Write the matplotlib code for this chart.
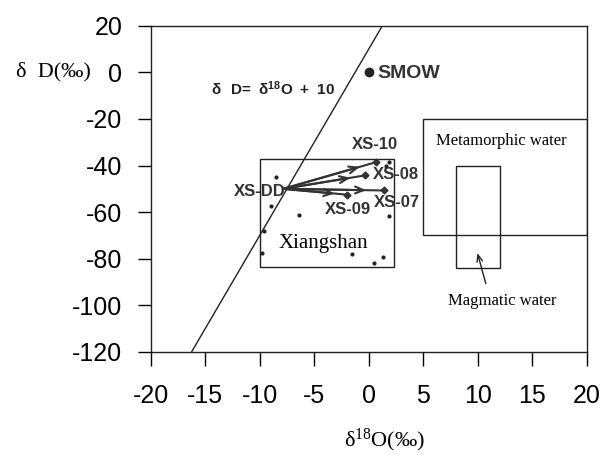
import numpy as np
import matplotlib
matplotlib.use('Agg')
import matplotlib.pyplot as plt
from matplotlib.patches import Rectangle

plt.rcParams['font.family'] = ['Liberation Sans', 'DejaVu Sans']
plt.rcParams['mathtext.fontset'] = 'custom'
plt.rcParams['mathtext.rm'] = 'Liberation Serif'
plt.rcParams['mathtext.bf'] = 'Liberation Sans:bold'
plt.rcParams['axes.unicode_minus'] = False

# meteoric water line dD = slope * d18O + intercept
mwl_slope = 8
mwl_intercept = 10

# SMOW
smow_x, smow_y = 0, 0

# Xiangshan samples: start point and shifted end points
dd_x, dd_y = -7.85, -50.0
end_names = ['XS-10', 'XS-08', 'XS-07', 'XS-09']
end_x = [0.7, -0.3, 1.4, -2.0]
end_y = [-38.5, -44.2, -50.7, -52.5]

# other Xiangshan samples (small dots)
dots_x = [-8.5, -9.0, -6.4, -9.6, -9.8, 1.9, 1.3, 0.5, -1.5, 1.9, 1.6]
dots_y = [-45.1, -57.5, -61.1, -68.2, -77.6, -61.8, -79.4, -81.8, -78.0, -38.5, -40.0]

# field boxes (x0, x1, y0, y1)
xiangshan_box = (-10, 2.3, -83.5, -37)
metamorphic_box = (5, 20, -70, -20)
magmatic_box = (8, 12, -84, -40)

fig = plt.figure(figsize=(6.05, 4.55), dpi=100)
ax = fig.add_axes([0.249, 0.2264, 0.721, 0.7171])
ax.set_xlim(-20, 20)
ax.set_ylim(-120, 20)
ax.set_xticks(np.arange(-20, 21, 5))
ax.set_yticks(np.arange(-120, 21, 20))
ax.tick_params(axis='x', direction='out', length=10, width=1, labelsize=18, pad=13)
ax.tick_params(axis='y', direction='out', length=9.5, width=1, labelsize=18, pad=11)
for sp in ax.spines.values():
    sp.set_linewidth(1)
    sp.set_color('#222222')

# meteoric water line
xs = np.linspace(-20, 20, 50)
ax.plot(xs, mwl_slope * xs + mwl_intercept, color='#222222', lw=1)
ax.text(-8.8, -6.9, r'$\mathbf{\delta\ \ D\!=\ \delta^{18}O\ +\ 10}$', fontsize=11,
        ha='center', va='center', color='#222222')

# SMOW
ax.plot(smow_x, smow_y, 'o', color='#222222', ms=6)
ax.text(smow_x + 0.8, smow_y - 0.4, 'SMOW', fontsize=14, fontweight='bold',
        ha='left', va='center', color='#333333')

# boxes
for (x0, x1, y0, y1) in [xiangshan_box, metamorphic_box, magmatic_box]:
    ax.add_patch(Rectangle((x0, y0), x1 - x0, y1 - y0, fill=False,
                           edgecolor='#222222', lw=1, clip_on=True))

ax.plot(dots_x, dots_y, 'o', color='#222222', ms=2)

# arrows from XS-DD
for ex, ey in zip(end_x, end_y):
    ax.plot([dd_x, ex], [dd_y, ey], color='#333333', lw=1.5)
    fx = dd_x + 0.85 * (ex - dd_x)
    fy = dd_y + 0.85 * (ey - dd_y)
    ax.annotate('', xy=(fx, fy), xytext=(dd_x, dd_y),
                arrowprops=dict(arrowstyle='->,head_length=0.6,head_width=0.25',
                                color='#333333', lw=1.5))
ax.plot(end_x, end_y, 'D', color='#333333', ms=3.5)

lab_x = [0.55, 2.5, 2.6, -1.95]
lab_y = [-31, -44, -56, -58.8]
for name, lx, ly in zip(end_names, lab_x, lab_y):
    ax.text(lx, ly, name, fontsize=12, fontweight='bold', ha='center',
            va='center', color='#333333')
ax.text(-10, -51, 'XS-DD', fontsize=12, fontweight='bold', ha='center',
        va='center', color='#333333')

serif = ['Liberation Serif', 'DejaVu Serif']
ax.text(-4.2, -73.3, 'Xiangshan', fontsize=15, family=serif, ha='center', va='center')
ax.text(12.2, -29.6, 'Metamorphic water', fontsize=12, family=serif,
        ha='center', va='center')
ax.text(12.2, -98.3, 'Magmatic water', fontsize=12, family=serif,
        ha='center', va='center')
ax.annotate('', xy=(9.9, -76.4), xytext=(10.8, -91.8),
            arrowprops=dict(arrowstyle='->,head_length=0.5,head_width=0.2',
                            color='#222222', lw=1))

# axis labels
ax.text(-0.222, 0.858, 'δ  D(‰)', transform=ax.transAxes, fontsize=16,
        family=serif, ha='center', va='center')
ax.text(0.537, -0.272, r'$\mathrm{\delta^{18}O(‰)}$', transform=ax.transAxes,
        fontsize=16, ha='center', va='center')

fig.savefig('out.png', dpi=100)
